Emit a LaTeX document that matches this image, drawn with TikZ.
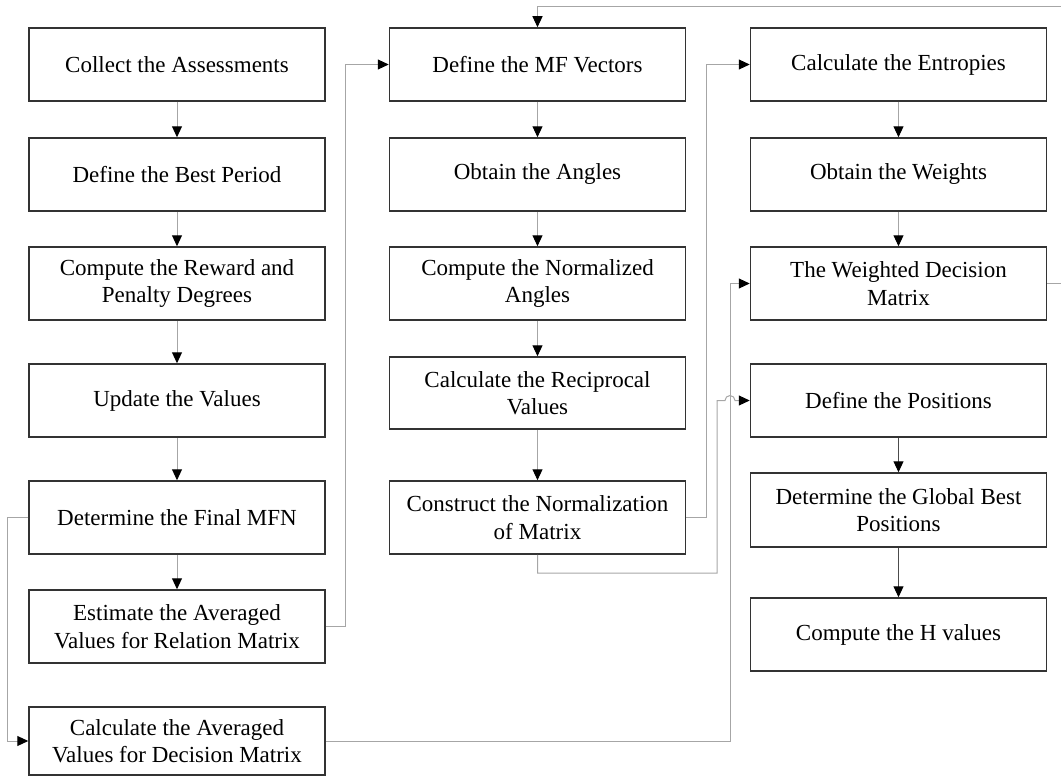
\documentclass[tikz,border=0pt]{standalone}
\usepackage{fontspec}
\setmainfont{Liberation Serif}
\usetikzlibrary{arrows.meta}
\begin{document}
\begin{tikzpicture}[x=1pt,y=-1pt,
  box/.style={draw=black!80, line width=1.5pt, minimum width=296pt, minimum height=73pt,
    align=center, inner sep=0pt, font=\fontsize{23}{27.5}\selectfont},
  conn/.style={draw=black!35, line width=1pt, -{Triangle[length=11pt,width=10pt,color=black]}},
  dconn/.style={conn, draw=black!70}]
\useasboundingbox (0,0) rectangle (1061,776);
% column 1
\node[box] (c1a) at (177,64.5) {Collect the Assessments};
\node[box] (c1b) at (177,174.5) {Define the Best Period};
\node[box] (c1c) at (177,283.5) {Compute the Reward and\\Penalty Degrees};
\node[box] (c1d) at (177,400.5) {Update the Values};
\node[box] (c1e) at (177,517.5) {Determine the Final MFN};
\node[box] (c1f) at (177,626.5) {Estimate the Averaged\\Values for Relation Matrix};
\node[box, minimum height=68pt] (c1g) at (177,741) {Calculate the Averaged\\Values for Decision Matrix};
% column 2
\node[box] (c2a) at (537.5,64.5) {Define the MF Vectors};
\node[box] (c2b) at (537.5,174.5) {Obtain the Angles};
\node[box] (c2c) at (537.5,283.5) {Compute the Normalized\\Angles};
\node[box, minimum height=72pt] (c2d) at (537.5,393) {Calculate the Reciprocal\\Values};
\node[box] (c2e) at (537.5,517.5) {Construct the Normalization\\of Matrix};
% column 3
\node[box] (c3a) at (898.5,64.5) {Calculate the Entropies};
\node[box] (c3b) at (898.5,174.5) {Obtain the Weights};
\node[box] (c3c) at (898.5,283.5) {The Weighted Decision\\Matrix};
\node[box] (c3d) at (898.5,400.5) {Define the Positions};
\node[box, minimum height=74pt] (c3e) at (898.5,510) {Determine the Global Best\\Positions};
\node[box] (c3f) at (898.5,634.5) {Compute the H values};
% vertical arrows
\draw[conn] (c1a) -- (c1b);
\draw[conn] (c1b) -- (c1c);
\draw[conn] (c1c) -- (c1d);
\draw[conn] (c1d) -- (c1e);
\draw[conn] (c1e) -- (c1f);
\draw[conn] (c2a) -- (c2b);
\draw[conn] (c2b) -- (c2c);
\draw[conn] (c2c) -- (c2d);
\draw[conn] (c2d) -- (c2e);
\draw[conn] (c3a) -- (c3b);
\draw[conn] (c3b) -- (c3c);
\draw[dconn] (c3d) -- (c3e);
\draw[dconn] (c3e) -- (c3f);
% loops
\draw[conn] (c1f.east) -- ++(20,0) |- (c2a.west);
\draw[conn] (c1e.west) -- ++(-21,0) |- (c1g.west);
\draw[conn] (c1g.east) -- ++(405,0) |- (c3c.west);
\draw[conn] (c2e.east) -- ++(20,0) |- (c3a.west);
\coordinate (hopA) at (717,573);
\draw[conn] (c2e.south) |- (hopA) -- (717,400.5) -- (725,400.5)
  arc[start angle=180, end angle=360, radius=5] -- (c3d.west);
\draw[conn] (c3c.east) -- ++(20,0) |- (537.5,7) -- (c2a.north);
\end{tikzpicture}
\end{document}
